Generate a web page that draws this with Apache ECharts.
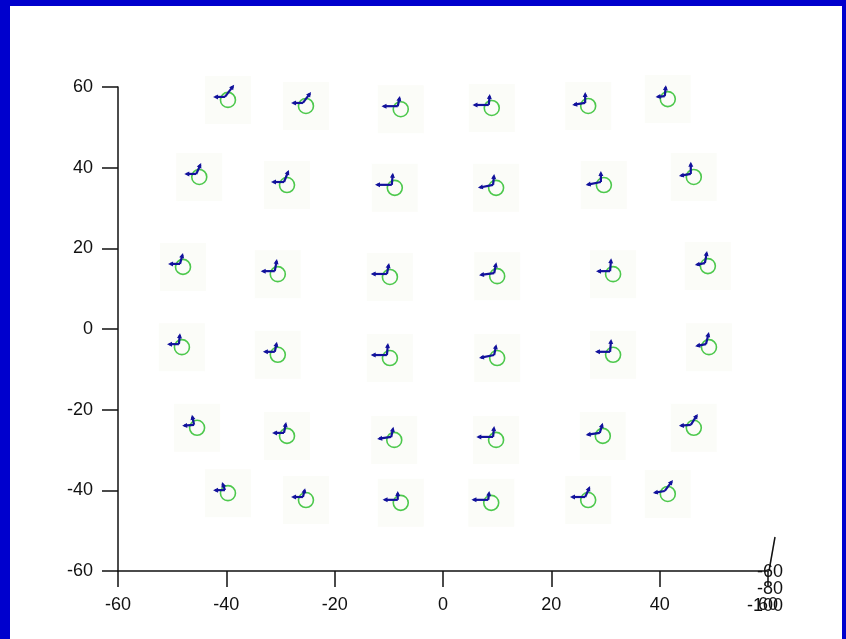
<!DOCTYPE html>
<html>
<head>
<meta charset="utf-8">
<script src="https://cdn.jsdelivr.net/npm/echarts@6/dist/echarts.min.js"></script>
<style>
html, body { margin: 0; padding: 0; background: #fff; }
#frame {
  position: absolute; left: 0; top: 0; width: 846px; height: 639px;
  box-sizing: border-box; background: #fff;
  border-left: 10px solid #0000cd; border-top: 6px solid #0000cd; border-right: 4px solid #0000cd;
}
#main { position: absolute; left: 0; top: 0; width: 846px; height: 639px; }
</style>
</head>
<body>
<div id="frame"></div>
<div id="main"></div>
<script>
// grid point centres (6 rows x 6 columns, top row first)
const ptX = [
  -39.7, -25.3, -7.8, 9.0, 26.8, 41.5,
  -45.0, -28.8, -8.9, 9.8, 29.7, 46.3,
  -48.0, -30.5, -9.8, 10.0, 31.4, 48.9,
  -48.2, -30.5, -9.8, 10.0, 31.4, 49.1,
  -45.4, -28.8, -9.0, 9.8, 29.5, 46.3,
  -39.7, -25.3, -7.8, 8.9, 26.8, 41.5
];
const ptY = [
  56.8, 55.3, 54.5, 54.8, 55.3, 57.0,
  37.7, 35.7, 35.0, 35.0, 35.7, 37.7,
  15.4, 13.6, 12.9, 13.1, 13.6, 15.6,
  -4.5, -6.4, -7.2, -7.2, -6.4, -4.5,
  -24.5, -26.5, -27.5, -27.5, -26.5, -24.5,
  -40.7, -42.4, -43.1, -43.1, -42.4, -40.9
];
// first arrow (pointing left)
const axU = [
  -2.2, -2.2, -3.0, -3.0, -2.4, -1.7,
  -2.2, -2.4, -3.1, -2.8, -2.8, -2.2,
  -2.2, -2.6, -3.0, -2.8, -2.6, -1.85,
  -2.2, -2.2, -3.0, -2.8, -2.8, -2.0,
  -2.2, -2.2, -2.6, -3.1, -2.6, -2.2,
  -2.2, -2.2, -2.8, -3.1, -2.8, -2.2
];
const axV = [
  0, 0, 0, 0, -0.5, -0.25,
  0, 0, 0, -0.75, -0.75, -0.5,
  0, 0, 0, -0.5, 0, -0.5,
  0, 0, 0, -0.75, 0, -0.5,
  -0.25, 0, -0.5, 0, -0.5, -0.25,
  0, 0, 0, 0, 0, -0.5
];
// second arrow (pointing up)
const ayU = [
  1.7, 1.5, 0.4, 0.2, 0, 0.2,
  0.9, 0.9, 0.2, 0.2, 0, 0,
  0.55, 0.4, 0.4, 0.4, 0.2, 0.4,
  0.2, 0.4, 0.2, 0.4, 0.2, 0.55,
  -0.4, 0.4, 0.4, 0.2, 0.55, 1.3,
  -0.55, 0.4, 0, 0.2, 0.9, 1.5
];
const ayV = [
  3.0, 2.7, 2.5, 2.7, 2.7, 2.7,
  2.7, 3.0, 3.0, 2.7, 2.7, 3.0,
  2.7, 3.0, 2.7, 2.7, 3.2, 3.0,
  2.7, 2.5, 3.0, 2.7, 3.2, 3.0,
  2.5, 2.7, 2.5, 2.7, 2.5, 2.7,
  2.0, 2.2, 2.2, 2.2, 2.7, 2.7
];
const xTicks = [-60, 60, 20];   // min, max, step
const yTicks = [-60, 60, 20];
const zLabels = ['-60', '-80', '-100'];

const points = ptX.map(function (x, i) { return [x, ptY[i]]; });
const arrows = ptX.map(function (x, i) { return [x, ptY[i], axU[i], axV[i], ayU[i], ayV[i]]; });

const labelFont = { color: '#111', fontSize: 18, fontFamily: 'Liberation Sans, Arial, sans-serif' };

function renderArrows(params, api) {
  const x = api.value(0), y = api.value(1);
  const o = api.coord([x, y]);
  const ox = o[0] - 3, oy = o[1] - 3;
  const children = [];
  [[api.value(2), api.value(3)], [api.value(4), api.value(5)]].forEach(function (v) {
    const e = api.coord([x + v[0], y + v[1]]);
    const ex = e[0] - 3, ey = e[1] - 3;
    const a = Math.atan2(ey - oy, ex - ox);
    const c = Math.cos(a), s = Math.sin(a);
    const L = 5, W = 2.5;
    children.push({
      type: 'line',
      shape: { x1: ox, y1: oy, x2: ex - c * 2, y2: ey - s * 2 },
      style: { stroke: '#12129c', lineWidth: 2.2 }
    });
    children.push({
      type: 'polygon',
      shape: { points: [[ex, ey], [ex - c * L - s * W, ey - s * L + c * W], [ex - c * L + s * W, ey - s * L - c * W]] },
      style: { fill: '#12129c' }
    });
  });
  return { type: 'group', children: children };
}

const myChart = echarts.init(document.getElementById('main'));
myChart.setOption({
  animation: false,
  backgroundColor: 'transparent',
  grid: { left: 118, right: 78, top: 87, bottom: 68, containLabel: false },
  xAxis: {
    type: 'value', min: xTicks[0], max: xTicks[1], interval: xTicks[2],
    axisLine: { onZero: false, lineStyle: { color: '#111', width: 1.5 } },
    axisTick: { length: 16, lineStyle: { color: '#111', width: 1.5 } },
    axisLabel: Object.assign({ margin: 25 }, labelFont),
    splitLine: { show: false }
  },
  yAxis: {
    type: 'value', min: yTicks[0], max: yTicks[1], interval: yTicks[2],
    axisLine: { show: true, onZero: false, lineStyle: { color: '#111', width: 1.5 } },
    axisTick: { show: true, length: 16, lineStyle: { color: '#111', width: 1.5 } },
    axisLabel: Object.assign({ margin: 25 }, labelFont),
    splitLine: { show: false }
  },
  series: [
    {
      // faint texture patches behind each target
      type: 'scatter', data: points, symbol: 'rect', symbolSize: [46, 48],
      silent: true, z: 1,
      itemStyle: { color: '#fafbf6' }
    },
    {
      type: 'scatter', data: points, symbol: 'circle', symbolSize: 15,
      silent: true, z: 3,
      itemStyle: { color: 'rgba(0,0,0,0)', borderColor: '#22bb22', borderWidth: 1.6 }
    },
    {
      type: 'custom', data: arrows, renderItem: renderArrows,
      encode: { x: 0, y: 1 }, silent: true, z: 4
    }
  ]
});

// leftover z axis seen edge-on in the bottom right corner
const p = myChart.convertToPixel({ gridIndex: 0 }, [xTicks[1], yTicks[0]]);
const zg = [
  { type: 'line', shape: { x1: p[0] + 1, y1: p[1], x2: p[0] + 7, y2: p[1] - 34 }, style: { stroke: '#111', lineWidth: 1.5 } }
];
zLabels.forEach(function (t, i) {
  zg.push({
    type: 'text', x: p[0] + 15, y: p[1] + 1 + i * 17,
    style: { text: t, fill: '#111', fontSize: 18, fontFamily: 'Liberation Sans, Arial, sans-serif', align: 'right', verticalAlign: 'middle' }
  });
});
myChart.setOption({ graphic: zg });
</script>
</body>
</html>
